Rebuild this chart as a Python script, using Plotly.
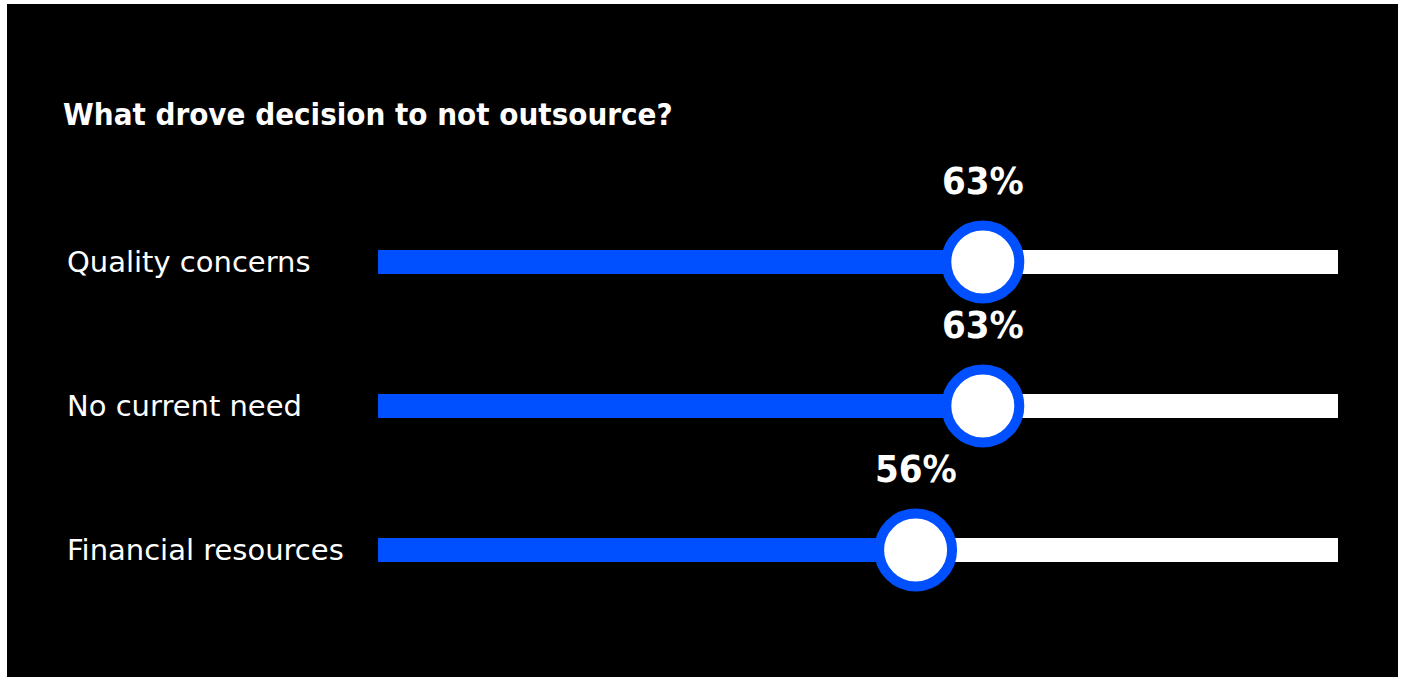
import plotly.graph_objects as go

# Survey data
categories = ["Quality concerns", "No current need", "Financial resources"]
values = [63, 63, 56]
track_max = 100
title_text = "What drove decision to not outsource?"

W, H = 1403, 677
BLUE = "#0050FF"
CONDENSED = "DejaVu Sans Condensed, Liberation Sans Narrow, sans-serif"
BODY = "DejaVu Sans, Open Sans, sans-serif"

# Axis geometry: track spans 378px..1338px, rows 144px apart starting at 262px
px_per_unit_x = (1338 - 378) / track_max
x0 = -378 / px_per_unit_x
x1 = x0 + W / px_per_unit_x
row_px, first_row_px = 144, 262
y_top = -first_row_px / row_px
y_bottom = (H - first_row_px) / row_px
bar_w = 24 / row_px

rows = list(range(len(categories)))

fig = go.Figure()

# white background tracks
fig.add_trace(go.Bar(
    x=[track_max] * len(categories), y=rows, orientation="h",
    width=bar_w, marker=dict(color="white", line=dict(width=0)),
    hoverinfo="skip", showlegend=False,
))
# blue filled portion
fig.add_trace(go.Bar(
    x=values, y=rows, orientation="h",
    width=bar_w, marker=dict(color=BLUE, line=dict(width=0)),
    hoverinfo="skip", showlegend=False,
))
# knob at each value
fig.add_trace(go.Scatter(
    x=values, y=rows, mode="markers",
    marker=dict(size=73, color="white", line=dict(color=BLUE, width=10)),
    hoverinfo="skip", showlegend=False, cliponaxis=False,
))

annotations = [
    dict(text=f"<b>{title_text}</b>", xref="paper", yref="paper",
         x=61 / W, y=1 - 114 / H, xanchor="left", yanchor="middle",
         showarrow=False, font=dict(family=CONDENSED, size=31, color="white")),
]
for r, (cat, v) in enumerate(zip(categories, values)):
    annotations.append(dict(
        text=cat, xref="paper", yref="y", x=65 / W, y=r,
        xanchor="left", yanchor="middle", showarrow=False,
        font=dict(family=BODY, size=29, color="white"),
    ))
    annotations.append(dict(
        text=f"<b>{v}%</b>", xref="x", yref="y", x=v, y=r,
        xanchor="center", yanchor="middle", yshift=81, showarrow=False,
        font=dict(family=CONDENSED, size=38, color="white"),
    ))

fig.update_layout(
    width=W, height=H,
    margin=dict(l=0, r=0, t=0, b=0),
    paper_bgcolor="white", plot_bgcolor="rgba(0,0,0,0)",
    barmode="overlay",
    xaxis=dict(range=[x0, x1], visible=False, fixedrange=True),
    yaxis=dict(range=[y_bottom, y_top], visible=False, fixedrange=True),
    shapes=[dict(type="rect", xref="paper", yref="paper", layer="below",
                 x0=7 / W, x1=1398 / W, y0=0, y1=1 - 4 / H,
                 fillcolor="black", line=dict(width=0))],
    annotations=annotations,
    hovermode=False,
)

fig.write_html("out.html", config=dict(displayModeBar=False))
